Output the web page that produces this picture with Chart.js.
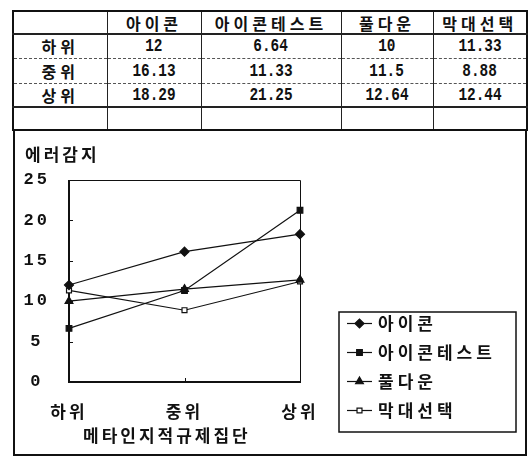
<!DOCTYPE html>
<html>
<head>
<meta charset="utf-8">
<script src="https://cdn.jsdelivr.net/npm/chart.js@4.4.0/dist/chart.umd.min.js"></script>
<style>
  html, body { margin: 0; padding: 0; background: #fff; }
  #page { position: relative; width: 530px; height: 458px; overflow: hidden; background: #fff; }
  #tbl {
    position: absolute; left: 12px; top: 10px; width: 514px;
    border-collapse: collapse; table-layout: fixed; border: 2px solid #111;
  }
  #tbl td {
    padding: 0; text-align: center; vertical-align: middle; color: #111;
    border-left: 1.5px solid #222; border-top: 1px dashed #555;
    font: bold 16px "Noto Sans CJK KR", sans-serif; letter-spacing: 4px; line-height: 1;
  }
  #tbl tr.head td { border-top: none; border-bottom: 2px solid #222; }
  #tbl tr.blank td { border-top: 2px solid #222; }
  #tbl td.num span {
    display: inline-block; font: bold 18px "Liberation Mono", monospace;
    letter-spacing: 0; transform: scaleX(0.8);
  }
  #box {
    position: absolute; left: 13px; top: 129px; width: 510px; height: 323px;
    border: 2px solid #111;
  }
  canvas { display: block; }
</style>
</head>
<body>
<div id="page">
  <table id="tbl"></table>
  <div id="box"><canvas id="chart" width="510" height="323"></canvas></div>
</div>
<script>
// groups (x categories) and series
const categories = ['하위', '중위', '상위'];
const seriesNames = ['아이콘', '아이콘테스트', '풀다운', '막대선택'];
const icon      = [12, 16.13, 18.29];
const iconTest  = [6.64, 11.33, 21.25];
const pullDown  = [10, 11.5, 12.64];
const barSelect = [11.33, 8.88, 12.44];
const yTicks = [0, 5, 10, 15, 20, 25];
const yTitle = '에러감지';
const xTitle = '메타인지적규제집단';

const seriesValues = [icon, iconTest, pullDown, barSelect];

// ---- data table above the chart ----
(function buildTable() {
  const colWidths = [94, 94, 140, 92, 94];
  const rowHeights = [23, 24, 25, 24, 23];
  const tbl = document.getElementById('tbl');
  let html = '<colgroup>' + colWidths.map(w => '<col style="width:' + w + 'px">').join('') + '</colgroup>';
  html += '<tr class="head" style="height:' + rowHeights[0] + 'px"><td></td>' +
          seriesNames.map(n => '<td>' + n + '</td>').join('') + '</tr>';
  categories.forEach((c, i) => {
    html += '<tr style="height:' + rowHeights[i + 1] + 'px"><td>' + c + '</td>' +
            seriesValues.map(s => '<td class="num"><span>' + String(s[i]) + '</span></td>').join('') + '</tr>';
  });
  html += '<tr class="blank" style="height:' + rowHeights[4] + 'px">' + '<td></td>'.repeat(5) + '</tr>';
  tbl.innerHTML = html;
})();

// ---- chart ----
const KFONT = '"Noto Sans CJK KR", sans-serif';
const NFONT = '"Liberation Mono", monospace';
const INK = '#111';

const markerStyles = [
  { pointStyle: 'rectRot',  radius: 4.5, bg: INK },
  { pointStyle: 'rect',     radius: 4,   bg: INK },
  { pointStyle: 'triangle', radius: 4.5, bg: INK },
  { pointStyle: 'rect',     radius: 3.5, bg: '#fff' }
];

const spacing = {
  id: 'spacing',
  beforeUpdate(chart) { chart.ctx.letterSpacing = '3px'; },
  beforeDraw(chart) { chart.ctx.letterSpacing = '3px'; }
};

// plot frame: heavy left/bottom axes, light top/right border, inward tick marks
const frame = {
  id: 'frame',
  beforeDatasetsDraw(chart) {
    const { ctx, chartArea: a, scales: { x, y } } = chart;
    ctx.save();
    ctx.strokeStyle = INK;
    ctx.lineWidth = 1;
    ctx.beginPath();
    ctx.moveTo(a.left, a.top + 0.5); ctx.lineTo(a.right + 0.5, a.top + 0.5);
    ctx.lineTo(a.right + 0.5, a.bottom);
    ctx.stroke();
    ctx.lineWidth = 2;
    ctx.beginPath();
    ctx.moveTo(a.left, a.top); ctx.lineTo(a.left, a.bottom); ctx.lineTo(a.right + 1, a.bottom);
    ctx.stroke();
    ctx.lineWidth = 1;
    ctx.beginPath();
    yTicks.slice(1, -1).forEach(v => {
      const py = Math.round(y.getPixelForValue(v)) + 0.5;
      ctx.moveTo(a.left, py); ctx.lineTo(a.left + 4, py);
    });
    for (let i = 1; i < categories.length - 1; i++) {
      const px = Math.round(x.getPixelForValue(i)) + 0.5;
      ctx.moveTo(px, a.bottom); ctx.lineTo(px, a.bottom - 4);
    }
    ctx.stroke();
    ctx.restore();
  }
};

// axis titles and the boxed legend
const extras = {
  id: 'extras',
  afterDraw(chart) {
    const ctx = chart.ctx;
    ctx.save();
    ctx.letterSpacing = '3px';
    ctx.fillStyle = INK;
    ctx.textBaseline = 'middle';
    ctx.textAlign = 'left';
    ctx.font = 'bold 17px ' + KFONT;
    ctx.fillText(yTitle, 10, 24);
    ctx.fillText(xTitle, 68, 305);

    const box = { l: 324, t: 181, r: 501, b: 301 };
    ctx.strokeStyle = INK;
    ctx.lineWidth = 1.5;
    ctx.strokeRect(box.l, box.t, box.r - box.l, box.b - box.t);
    const rowY = [192, 221, 250, 279];
    ctx.letterSpacing = '4px';
    chart.data.datasets.forEach((ds, i) => {
      const yy = rowY[i];
      ctx.lineWidth = 1.2;
      ctx.strokeStyle = INK;
      ctx.beginPath();
      ctx.moveTo(332, yy + 0.5); ctx.lineTo(357, yy + 0.5);
      ctx.stroke();
      ctx.fillStyle = ds.pointBackgroundColor;
      Chart.helpers.drawPoint(ctx, {
        pointStyle: ds.pointStyle, radius: ds.pointRadius, rotation: 0,
        borderWidth: 1.2
      }, 344.5, yy + 0.5);
      ctx.fillStyle = INK;
      ctx.fillText(ds.label, 363, yy + 1);
    });
    ctx.restore();
  }
};

new Chart(document.getElementById('chart'), {
  type: 'line',
  data: {
    labels: categories,
    datasets: seriesNames.map((name, i) => ({
      label: name,
      data: seriesValues[i],
      borderColor: INK,
      borderWidth: 1.2,
      pointStyle: markerStyles[i].pointStyle,
      pointRadius: markerStyles[i].radius,
      pointBackgroundColor: markerStyles[i].bg,
      pointBorderColor: INK,
      pointBorderWidth: 1.2,
      tension: 0,
      fill: false,
      clip: false
    }))
  },
  options: {
    responsive: false,
    animation: false,
    devicePixelRatio: 1,
    layout: { padding: { left: 0, right: 225, top: 49, bottom: 0 } },
    plugins: { legend: { display: false }, tooltip: { enabled: false } },
    scales: {
      x: {
        offset: false,
        grid: { display: false, drawTicks: false },
        border: { display: false },
        ticks: {
          padding: 19, color: INK, maxRotation: 0, autoSkip: false,
          font: { family: KFONT, size: 17, weight: 'bold' }
        },
        afterFit(s) { s.height = 72; }
      },
      y: {
        min: 0, max: 25,
        grid: { display: false, drawTicks: false },
        border: { display: false },
        afterBuildTicks(s) { s.ticks = yTicks.map(v => ({ value: v })); },
        ticks: {
          padding: 19, crossAlign: 'center', color: INK,
          font: { family: NFONT, size: 17, weight: 'bold' }
        },
        afterFit(s) { s.width = 54; }
      }
    }
  },
  plugins: [spacing, frame, extras]
});
</script>
</body>
</html>
